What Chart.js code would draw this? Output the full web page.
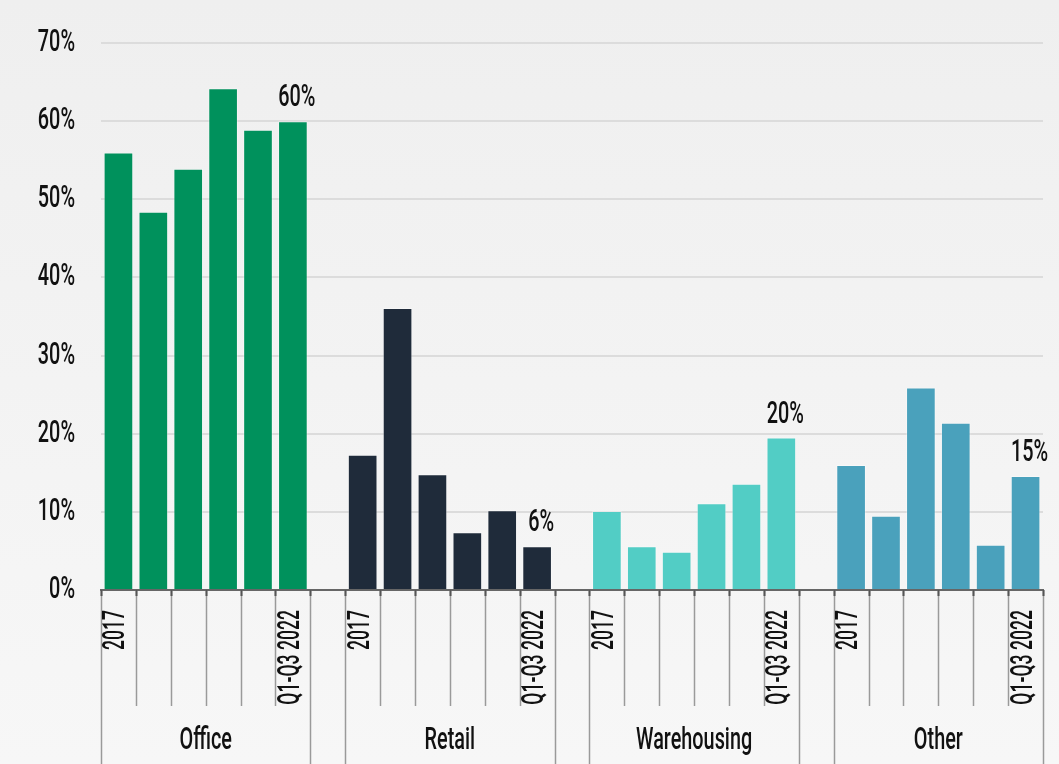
<!DOCTYPE html>
<html>
<head>
<meta charset="utf-8">
<script src="https://cdn.jsdelivr.net/npm/chart.js@4"></script>
<style>
  html, body { margin: 0; padding: 0; background: #f3f3f3; }
  canvas { display: block; }
</style>
</head>
<body>
<canvas id="chart" width="1059" height="764" aria-label="Share by sector, 2017 to Q1-Q3 2022" role="img"></canvas>
<script>
const groups = ['Office', 'Retail', 'Warehousing', 'Other'];
const years = ['2017', '2018', '2019', '2020', '2021', 'Q1-Q3 2022'];
const shownYears = ['2017', 'Q1-Q3 2022'];
const office = [56.0, 48.4, 53.9, 64.2, 58.9, 60.0];
const retail = [17.3, 36.1, 14.8, 7.4, 10.2, 5.6];
const warehousing = [10.1, 5.6, 4.9, 11.1, 13.6, 19.5];
const other = [16.0, 9.5, 25.9, 21.4, 5.8, 14.6];
const groupColors = ['#00915c', '#1f2b3a', '#52cdc5', '#4aa1bc'];
const yMax = 70, yStep = 10;

const FONT = "Roboto, 'DejaVu Sans', sans-serif";

// one category per bar, plus an empty slot between groups
const labels = [], values = [], colors = [], groupStart = [];
[office, retail, warehousing, other].forEach((vals, g) => {
  if (g > 0) { labels.push(''); values.push(null); colors.push('rgba(0,0,0,0)'); }
  groupStart.push(labels.length);
  years.forEach((y, i) => { labels.push(y); values.push(vals[i]); colors.push(groupColors[g]); });
});

// condensed text: squeeze along the reading direction (original face is very narrow)
function squeezedText(ctx, text, x, y, align, size, angle, sx) {
  ctx.save();
  ctx.translate(x, y);
  if (angle) ctx.rotate(angle);
  ctx.scale(sx, 1);
  ctx.font = '500 ' + size + 'px ' + FONT;
  ctx.textAlign = align;
  ctx.fillText(text, 0, 0);
  ctx.restore();
}

const bgPlugin = {
  id: 'bg',
  beforeDraw(chart) {
    const { ctx, width, height } = chart;
    const grad = ctx.createLinearGradient(0, 0, 0, height);
    grad.addColorStop(0, '#efefef');
    grad.addColorStop(1, '#f7f7f7');
    ctx.save();
    ctx.fillStyle = grad;
    ctx.fillRect(0, 0, width, height);
    ctx.restore();
  }
};

const textPlugin = {
  id: 'texts',
  afterDraw(chart) {
    const { ctx, scales: { x, y }, chartArea, height } = chart;
    const half = (x.getPixelForValue(1) - x.getPixelForValue(0)) / 2;
    const base = chartArea.bottom;
    ctx.save();
    // slot separators
    for (let i = 0; i <= labels.length; i++) {
      const px = Math.round(x.getPixelForValue(i) - half) + 0.5;
      const edge = groupStart.includes(i) || groupStart.some(s => s + years.length === i);
      ctx.strokeStyle = '#9a9a9a';
      ctx.lineWidth = 1.5;
      ctx.beginPath();
      ctx.moveTo(px, base);
      ctx.lineTo(px, edge ? height : base + 116);
      ctx.stroke();
      ctx.strokeStyle = '#555';
      ctx.lineWidth = 2;
      ctx.beginPath();
      ctx.moveTo(px, base);
      ctx.lineTo(px, base + 6);
      ctx.stroke();
    }
    ctx.fillStyle = '#111';
    ctx.textBaseline = 'middle';
    // y tick labels
    y.ticks.forEach(t => {
      squeezedText(ctx, t.value + '%', chartArea.left - 26, y.getPixelForValue(t.value), 'right', 32, 0, 0.62);
    });
    // rotated year labels
    labels.forEach((l, i) => {
      if (!shownYears.includes(l)) return;
      squeezedText(ctx, l, x.getPixelForValue(i) - 2, base + 20, 'right', 32, -Math.PI / 2, 0.55);
    });
    // group names
    groups.forEach((name, g) => {
      const s = groupStart[g];
      const cx = (x.getPixelForValue(s) + x.getPixelForValue(s + years.length - 1)) / 2;
      squeezedText(ctx, name, cx, base + 151, 'center', 31, 0, 0.64);
    });
    // value labels on the latest bar of each group
    const meta = chart.getDatasetMeta(0);
    ctx.textBaseline = 'alphabetic';
    groupStart.forEach(s => {
      const idx = s + years.length - 1;
      const bar = meta.data[idx];
      squeezedText(ctx, Math.round(values[idx]) + '%', bar.x + 4, bar.y - 15, 'center', 32, 0, 0.62);
    });
    ctx.restore();
  }
};

new Chart(document.getElementById('chart'), {
  type: 'bar',
  data: {
    labels: labels,
    datasets: [{
      data: values,
      backgroundColor: colors,
      borderColor: 'rgba(255,255,255,0.35)',
      borderWidth: 1,
      barPercentage: 0.85,
      categoryPercentage: 1
    }]
  },
  options: {
    responsive: false,
    animation: false,
    layout: { padding: { top: 43, right: 16, left: 0, bottom: 0 } },
    plugins: { legend: { display: false }, tooltip: { enabled: false } },
    scales: {
      x: {
        afterFit: s => { s.height = 174; },
        grid: { display: false },
        border: { display: true, color: '#666', width: 2 },
        ticks: { display: false, autoSkip: false }
      },
      y: {
        min: 0,
        max: yMax,
        afterFit: s => { s.width = 101; },
        border: { display: false },
        grid: { color: '#dcdcdc', lineWidth: 2, drawTicks: false },
        ticks: { display: false, stepSize: yStep }
      }
    }
  },
  plugins: [bgPlugin, textPlugin]
});
</script>
</body>
</html>
